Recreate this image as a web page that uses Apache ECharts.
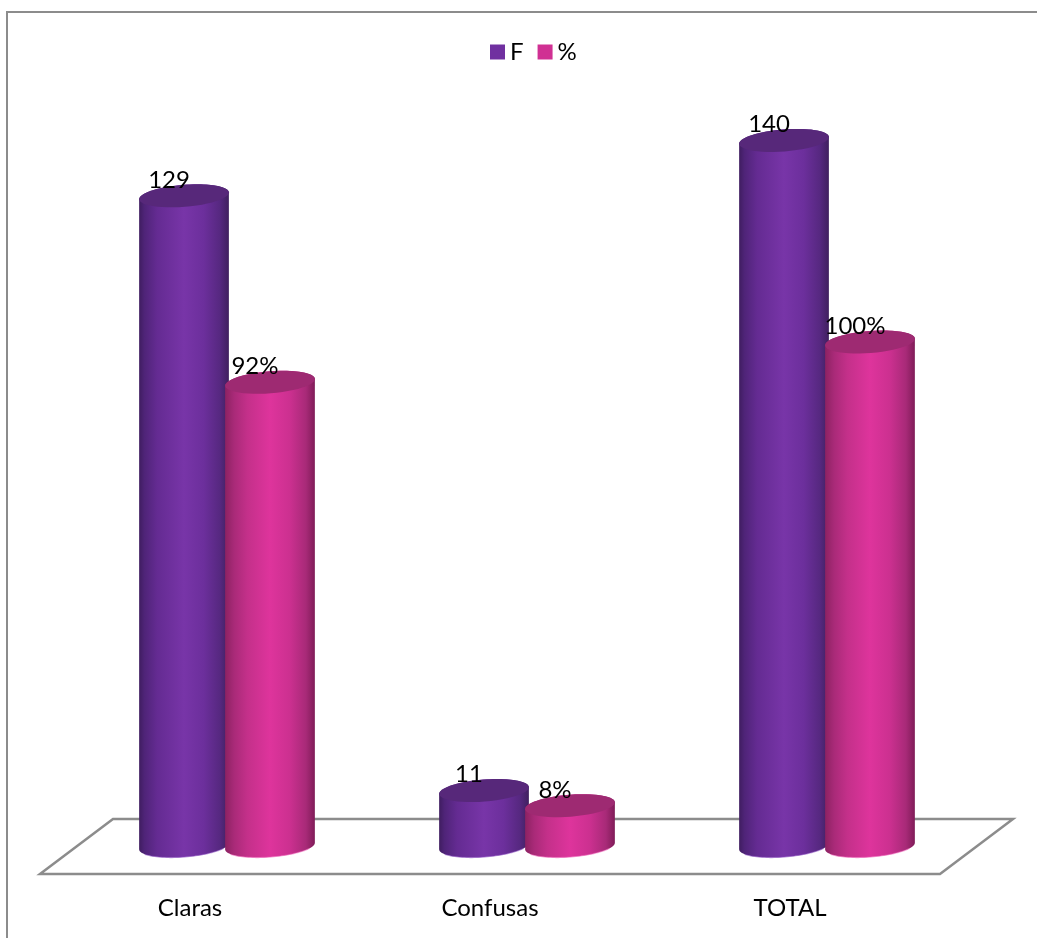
<!DOCTYPE html>
<html>
<head>
<meta charset="utf-8">
<style>html,body{margin:0;padding:0;background:#fff}#chart{width:1037px;height:938px}</style>
<script src="https://cdn.jsdelivr.net/npm/echarts@6/dist/echarts.min.js"></script>
</head>
<body>
<div id="chart"></div>
<script>
// Category names and the two series
const categories = ['Claras', 'Confusas', 'TOTAL'];
const frecuencia = [129, 11, 140];
const porcentaje = [92, 8, 100];

const FONT = 'Lato, "Open Sans", sans-serif';
const GRAY = '#8c8c8c';

// Cylinder proportions relative to the category band width
const OFFSET_RATIO = 0.1433;
const RADIUS_RATIO = 0.15;
const MINOR_RADIUS_RATIO = 0.0367;
const TILT = -4.5 * Math.PI / 180;

// Point on a tilted ellipse centred at (cx, cy)
function ellipsePoint(cx, cy, a, b, t) {
  return [
    cx + a * Math.cos(t) * Math.cos(TILT) - b * Math.sin(t) * Math.sin(TILT),
    cy + a * Math.cos(t) * Math.sin(TILT) + b * Math.sin(t) * Math.cos(TILT)
  ];
}

function arc(cx, cy, a, b, from, to) {
  const pts = [];
  const steps = 48;
  for (let i = 0; i <= steps; i++) {
    pts.push(ellipsePoint(cx, cy, a, b, from + (to - from) * i / steps));
  }
  return pts;
}

function horizontal(stops) {
  return {
    type: 'linear', x: 0, y: 0, x2: 1, y2: 0,
    colorStops: stops.map(s => ({ offset: s[0], color: s[1] }))
  };
}

// Builds one cylinder series; side is -1 or +1 within the category band
function cylinderSeries(name, values, side, swatch, topColor, rimColor, stops, format) {
  return {
    name,
    type: 'custom',
    xAxisIndex: 0,
    yAxisIndex: 0,
    z: 3,
    itemStyle: { color: swatch },
    data: values.map((v, i) => [i, v]),
    renderItem(params, api) {
      const band = api.size([1, 0])[0];
      const cat = api.value(0);
      const val = api.value(1);
      const a = band * RADIUS_RATIO;
      const b = band * MINOR_RADIUS_RATIO;
      const centre = api.coord([cat, val]);
      const base = api.coord([cat, 0]);
      const cx = centre[0] + side * band * OFFSET_RATIO;
      const tr = Math.atan2(-b * Math.sin(TILT), a * Math.cos(TILT));
      const body = arc(cx, base[1], a, b, tr, tr + Math.PI)
        .concat(arc(cx, centre[1], a, b, tr + Math.PI, tr + 2 * Math.PI));
      const rim = arc(cx, base[1], a, b, tr + 0.5, tr + Math.PI - 0.5);
      return {
        type: 'group',
        children: [
          { type: 'polygon', shape: { points: body }, style: { fill: horizontal(stops) } },
          { type: 'polyline', shape: { points: rim }, style: { fill: 'none', stroke: rimColor, lineWidth: 1.2, opacity: 0.5 } },
          { type: 'polygon', shape: { points: arc(cx, centre[1], a, b, 0, 2 * Math.PI) }, style: { fill: topColor } },
          {
            type: 'text',
            z2: 100,
            x: cx - band * 0.05,
            y: centre[1] - band * 0.053,
            style: {
              text: format(val),
              font: '24px ' + FONT,
              fill: '#000',
              align: 'center',
              verticalAlign: 'middle'
            }
          }
        ]
      };
    }
  };
}

const chart = echarts.init(document.getElementById('chart'), null, { renderer: 'canvas' });

chart.setOption({
  animation: false,
  backgroundColor: '#fff',
  textStyle: { fontFamily: FONT },
  graphic: [{
    type: 'polyline',
    silent: true,
    shape: { points: [[7, 938], [7, 12], [1037, 12]] },
    style: { fill: 'none', stroke: GRAY, lineWidth: 2 }
  }],
  legend: {
    left: 490,
    top: 40,
    padding: 0,
    icon: 'rect',
    itemWidth: 15,
    itemHeight: 15,
    itemGap: 14,
    data: ['F', '%'],
    textStyle: { fontFamily: FONT, fontSize: 24, color: '#000' }
  },
  grid: [
    { left: 77, width: 900, top: 90, height: 756 },
    { left: 40, width: 900, top: 873, height: 1 }
  ],
  xAxis: [
    { type: 'category', gridIndex: 0, data: categories, show: false },
    {
      type: 'category',
      gridIndex: 1,
      data: categories,
      axisLine: { show: false },
      axisTick: { show: false },
      axisLabel: { margin: 22, fontFamily: FONT, fontSize: 24, color: '#000' }
    }
  ],
  yAxis: [
    { type: 'value', gridIndex: 0, min: 0, max: 150, show: false },
    { type: 'value', gridIndex: 1, show: false }
  ],
  series: [
    {
      // Floor of the plot, a parallelogram around the zero line
      type: 'custom',
      xAxisIndex: 0,
      yAxisIndex: 0,
      z: 1,
      silent: true,
      data: [[0, 0]],
      renderItem(params, api) {
        const sys = params.coordSys;
        const y0 = api.coord([0, 0])[1];
        return {
          type: 'polygon',
          shape: {
            points: [
              [sys.x - 37, y0 + 28],
              [sys.x + 36, y0 - 27],
              [sys.x + sys.width + 36, y0 - 27],
              [sys.x + sys.width - 37, y0 + 28]
            ]
          },
          style: { fill: '#fff', stroke: GRAY, lineWidth: 2.5 }
        };
      }
    },
    cylinderSeries('F', frecuencia, -1, '#7030a0', '#57287a', '#8a4cc0',
      [[0, '#3f1d60'], [0.06, '#4f2478'], [0.2, '#642b92'], [0.5, '#7835a8'], [0.72, '#6c2f9c'], [0.9, '#562880'], [1, '#40205f']],
      v => String(v)),
    cylinderSeries('%', porcentaje, 1, '#d03093', '#9e2a72', '#f060b8',
      [[0, '#8c2262'], [0.1, '#a92a78'], [0.25, '#c4308a'], [0.5, '#de349c'], [0.72, '#cc3090'], [0.9, '#a82a78'], [1, '#801c58']],
      v => v + '%')
  ]
});
</script>
</body>
</html>
